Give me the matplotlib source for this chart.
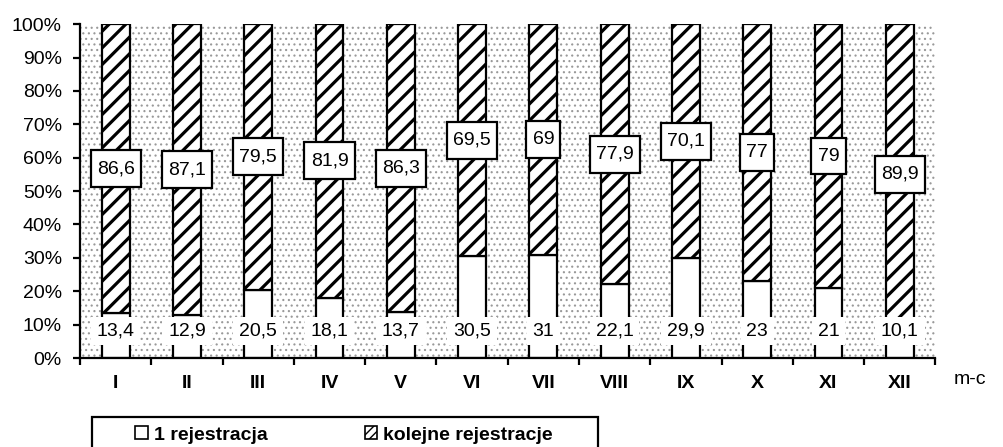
import matplotlib
matplotlib.use("Agg")
import matplotlib.pyplot as plt
from matplotlib.patches import Rectangle, Patch
import numpy as np

plt.rcParams['font.family'] = ['Liberation Sans', 'DejaVu Sans']

# dane
miesiace = ["I", "II", "III", "IV", "V", "VI", "VII", "VIII", "IX", "X", "XI", "XII"]
pierwsza = [13.4, 12.9, 20.5, 18.1, 13.7, 30.5, 31, 22.1, 29.9, 23, 21, 10.1]
kolejne = [86.6, 87.1, 79.5, 81.9, 86.3, 69.5, 69, 77.9, 70.1, 77, 79, 89.9]

def fmt(v):
    return ("%g" % v).replace(".", ",")

fig = plt.figure(figsize=(10.04, 4.47), dpi=100)
ax = fig.add_axes([0.0797, 0.199, 0.852, 0.747])

x = np.arange(len(miesiace))

# tlo w kropki
with plt.rc_context({'hatch.linewidth': 0.8}):
    ax.add_patch(Rectangle((0, 0), 1, 1, transform=ax.transAxes, facecolor="white",
                           edgecolor="#999999", hatch="...", lw=0, zorder=0))

w = 0.39
with plt.rc_context({'hatch.linewidth': 2.3}):
    ax.bar(x, pierwsza, w, color="white", edgecolor="black", lw=1.6, zorder=2)
    ax.bar(x, kolejne, w, bottom=pierwsza, color="white", edgecolor="black",
           hatch="//", lw=1.6, zorder=2)

for i in range(len(x)):
    ax.text(x[i], 8.1, fmt(pierwsza[i]), ha="center", va="center", fontsize=14,
            zorder=4, bbox=dict(boxstyle="square,pad=0.3", fc="white", ec="none"))
    ax.text(x[i], pierwsza[i] + kolejne[i] / 2, fmt(kolejne[i]), ha="center", va="center",
            fontsize=14, zorder=4,
            bbox=dict(boxstyle="square,pad=0.32", mutation_aspect=1.6,
                      fc="white", ec="black", lw=1.6))

ax.set_xlim(-0.5, len(x) - 0.5)
ax.set_ylim(0, 100)
ax.set_yticks(np.arange(0, 101, 10))
ax.set_yticklabels(["%d%%" % v for v in range(0, 101, 10)], fontsize=14)
ax.set_xticks(np.arange(-0.5, len(x), 1))
ax.set_xticklabels([])
ax.set_xticks(x, minor=True)
ax.set_xticklabels(miesiace, minor=True, fontsize=14, fontweight="bold")
ax.tick_params(axis="x", which="minor", length=0, pad=12)
ax.tick_params(axis="x", which="major", length=5, width=1.6, direction="out")
ax.tick_params(axis="y", length=5, width=1.6, direction="out", pad=8)

for s in ["top", "right"]:
    ax.spines[s].set_visible(False)
for s in ["left", "bottom"]:
    ax.spines[s].set_linewidth(1.6)

fig.text(0.966, 0.152, "m-c", fontsize=14, ha="center", va="center")

# legenda
fig.patches.append(Rectangle((92 / 1004, -0.05), 506 / 1004, 0.05 + 30 / 447,
                             transform=fig.transFigure, facecolor="white",
                             edgecolor="black", lw=1.6, zorder=1))
with plt.rc_context({'hatch.linewidth': 2.0}):
    handles = [Patch(facecolor="white", edgecolor="black", lw=1.2, label="1 rejestracja"),
               Patch(facecolor="white", edgecolor="black", lw=1.2, hatch="////",
                     label="kolejne rejestracje")]
leg = fig.legend(handles=handles, loc="center", ncol=2,
                 bbox_to_anchor=(344 / 1004, 1 - 435 / 447),
                 prop={"weight": "bold", "size": 14}, frameon=False,
                 handlelength=0.65, handleheight=0.65, handletextpad=0.3,
                 columnspacing=5.0, borderaxespad=0, borderpad=0)
leg.set_zorder(3)

fig.savefig("out.png", dpi=100)
